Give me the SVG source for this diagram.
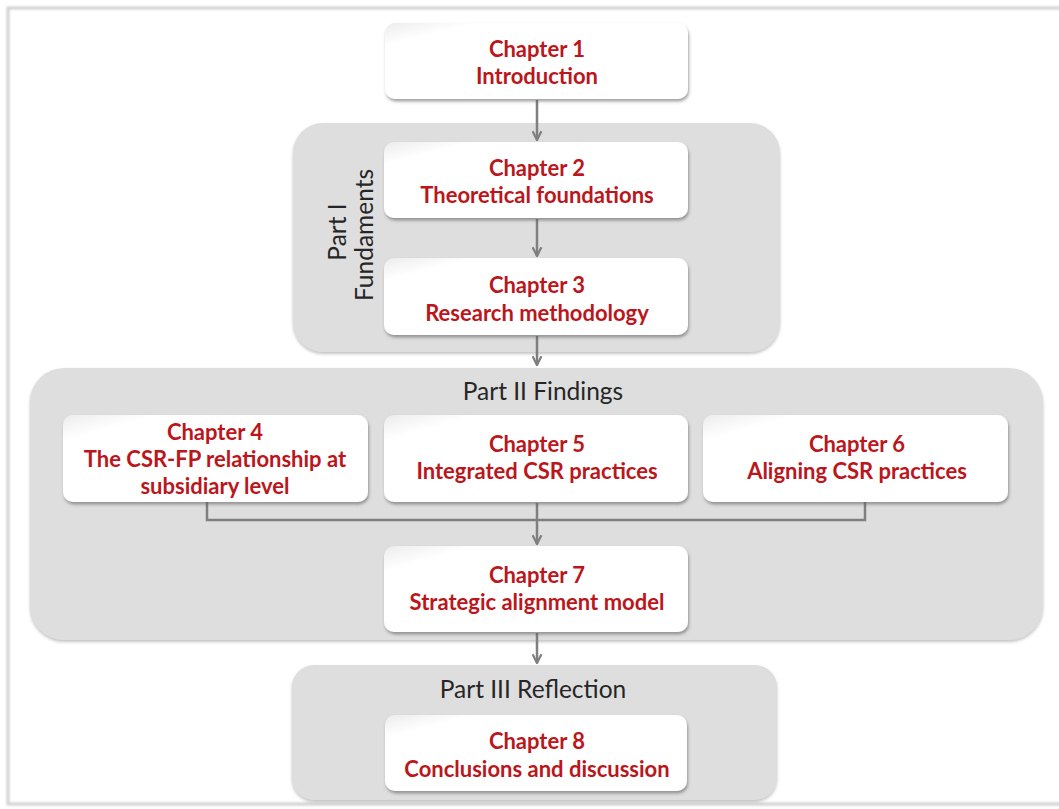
<svg xmlns="http://www.w3.org/2000/svg" width="1059" height="809" viewBox="0 0 1059 809">
  <defs>
    <style>
      .frame { fill: none; stroke: #cfcfcf; stroke-width: 3; }
      .part { fill: #dedede; filter: url(#partShadow); }
      .box { fill: url(#boxFill); filter: url(#boxShadow); }
      .ch { font-family: Lato, "Open Sans", "Liberation Sans", sans-serif; font-weight: bold; font-size: 22px; fill: #bb161c; text-anchor: middle; }
      .lbl { font-family: Lato, "Open Sans", "Liberation Sans", sans-serif; font-size: 24.5px; fill: #262626; text-anchor: middle; }
      .conn { fill: none; stroke: #7f7f7f; stroke-width: 2.5; }
    </style>
    <linearGradient id="boxFill" x1="0" y1="0" x2="1" y2="1">
      <stop offset="0" stop-color="#ececec"/>
      <stop offset="0.15" stop-color="#ffffff"/>
      <stop offset="1" stop-color="#ffffff"/>
    </linearGradient>
    <filter id="boxShadow" x="-10%" y="-20%" width="120%" height="150%">
      <feDropShadow dx="1" dy="2.5" stdDeviation="1.8" flood-color="#555555" flood-opacity="0.55"/>
    </filter>
    <filter id="partShadow" x="-5%" y="-5%" width="110%" height="115%">
      <feDropShadow dx="0" dy="2" stdDeviation="1.5" flood-color="#888888" flood-opacity="0.5"/>
    </filter>
    <filter id="soft" x="-5%" y="-5%" width="110%" height="110%">
      <feGaussianBlur stdDeviation="1"/>
    </filter>
    <marker id="arrow" viewBox="0 0 10 10" refX="9" refY="5" markerWidth="4.4" markerHeight="4.4" orient="auto" markerUnits="strokeWidth">
      <path d="M1,1 L9,5 L1,9" fill="none" stroke="#7f7f7f" stroke-width="2"/>
    </marker>
  </defs>

  <!-- outer frame -->
  <rect class="frame" x="8" y="8" width="1070" height="796" filter="url(#soft)"/>

  <!-- part containers -->
  <g id="part1">
    <rect class="part" x="293" y="123" width="487" height="229" rx="30"/>
    <text class="lbl" transform="translate(346,232) rotate(-90)">Part I</text>
    <text class="lbl" transform="translate(373,235) rotate(-90)">Fundaments</text>
  </g>
  <g id="part2">
    <rect class="part" x="30" y="368" width="1013" height="272" rx="34"/>
    <text class="lbl" x="543" y="400">Part II Findings</text>
  </g>
  <g id="part3">
    <rect class="part" x="292" y="665" width="485" height="135" rx="22"/>
    <text class="lbl" x="533" y="698">Part III Reflection</text>
  </g>

  <!-- connectors -->
  <g id="connectors">
    <line class="conn" x1="537" y1="100" x2="537" y2="140" marker-end="url(#arrow)"/>
    <line class="conn" x1="537" y1="219" x2="537" y2="256" marker-end="url(#arrow)"/>
    <line class="conn" x1="537" y1="336" x2="537" y2="365" marker-end="url(#arrow)"/>
    <polyline class="conn" points="207,502 207,520 865,520 865,502"/>
    <line class="conn" x1="537" y1="503" x2="537" y2="544" marker-end="url(#arrow)"/>
    <line class="conn" x1="537" y1="633" x2="537" y2="663" marker-end="url(#arrow)"/>
  </g>

  <!-- chapter nodes -->
  <g id="ch1">
    <rect class="box" x="385" y="23" width="303" height="76" rx="10"/>
    <text class="ch" x="537" y="57">Chapter 1</text>
    <text class="ch" x="537" y="84">Introduction</text>
  </g>
  <g id="ch2">
    <rect class="box" x="384" y="142" width="304" height="76" rx="10"/>
    <text class="ch" x="537" y="176">Chapter 2</text>
    <text class="ch" x="537" y="203">Theoretical foundations</text>
  </g>
  <g id="ch3">
    <rect class="box" x="384" y="258" width="304" height="77" rx="10"/>
    <text class="ch" x="537" y="293">Chapter 3</text>
    <text class="ch" x="537" y="321">Research methodology</text>
  </g>
  <g id="ch4">
    <rect class="box" x="63" y="415" width="305" height="87" rx="10"/>
    <text class="ch" x="215" y="440">Chapter 4</text>
    <text class="ch" x="215" y="467">The CSR-FP relationship at</text>
    <text class="ch" x="215" y="494">subsidiary level</text>
  </g>
  <g id="ch5">
    <rect class="box" x="384" y="415" width="304" height="87" rx="10"/>
    <text class="ch" x="537" y="452">Chapter 5</text>
    <text class="ch" x="537" y="479">Integrated CSR practices</text>
  </g>
  <g id="ch6">
    <rect class="box" x="703" y="415" width="305" height="87" rx="10"/>
    <text class="ch" x="857" y="452">Chapter 6</text>
    <text class="ch" x="857" y="479">Aligning CSR practices</text>
  </g>
  <g id="ch7">
    <rect class="box" x="384" y="546" width="304" height="86" rx="10"/>
    <text class="ch" x="537" y="583">Chapter 7</text>
    <text class="ch" x="537" y="610">Strategic alignment model</text>
  </g>
  <g id="ch8">
    <rect class="box" x="385" y="715" width="302" height="76" rx="10"/>
    <text class="ch" x="537" y="749">Chapter 8</text>
    <text class="ch" x="537" y="777">Conclusions and discussion</text>
  </g>
</svg>
